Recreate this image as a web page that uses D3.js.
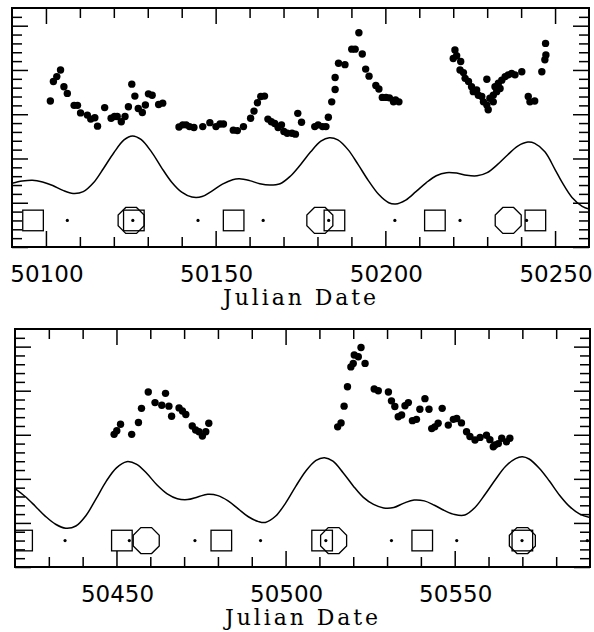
<!DOCTYPE html>
<html>
<head>
<meta charset="utf-8">
<script src="https://cdn.jsdelivr.net/npm/d3@7"></script>
<style>
  body { margin: 0; background: white; }
  svg { display: block; }
</style>
</head>
<body>
<svg id="chart"></svg>
<script>
var width = 594,
    height = 632;

// top panel: photometry points [JD, value]
var topPoints = [
    [50101.3, 3.30], [50102.2, 3.74], [50103.2, 3.85], [50104.3, 4.00], [50105.3, 3.62],
    [50106.3, 3.47], [50108.3, 3.20], [50109.3, 3.20], [50110.2, 3.03], [50112.2, 2.98],
    [50113.2, 2.89], [50114.4, 2.92], [50115.2, 2.73], [50117.3, 3.15], [50119.2, 2.91],
    [50120.2, 2.95], [50121.0, 2.95], [50122.2, 2.83], [50123.3, 2.95], [50124.3, 3.17],
    [50125.3, 3.68], [50126.2, 3.41], [50127.2, 3.13], [50128.4, 3.04], [50129.3, 3.21],
    [50130.2, 3.46], [50131.3, 3.43], [50133.2, 3.22], [50134.4, 3.25],
    [50139.2, 2.71], [50140.3, 2.76], [50141.3, 2.76], [50142.3, 2.72], [50143.6, 2.70],
    [50146.2, 2.72], [50148.3, 2.81], [50150.1, 2.72], [50151.3, 2.78], [50152.3, 2.78],
    [50155.2, 2.64], [50156.4, 2.63], [50158.2, 2.72], [50160.3, 2.91], [50161.3, 3.07],
    [50162.3, 3.26], [50163.3, 3.40], [50164.4, 3.41], [50165.4, 2.89], [50166.4, 2.83],
    [50167.4, 2.79], [50168.4, 2.70], [50169.4, 2.76], [50170.1, 2.61], [50171.1, 2.57],
    [50172.5, 2.57], [50173.5, 2.55], [50174.2, 3.02], [50175.3, 2.82],
    [50179.2, 2.72], [50180.2, 2.76], [50181.5, 2.72], [50182.5, 2.72], [50183.2, 2.93],
    [50184.2, 3.28], [50185.2, 3.56], [50185.2, 3.83], [50186.2, 4.15], [50188.1, 4.12],
    [50190.1, 4.47], [50191.1, 4.47], [50192.2, 4.84], [50193.2, 4.36], [50194.2, 4.02],
    [50195.2, 3.86], [50197.2, 3.65], [50198.1, 3.57], [50199.1, 3.38], [50200.2, 3.38],
    [50201.2, 3.37], [50202.4, 3.28], [50203.0, 3.32], [50204.0, 3.28],
    [50220.5, 4.45], [50220.0, 4.26], [50221.0, 4.32], [50222.2, 4.19], [50222.0, 4.00],
    [50223.0, 3.94], [50223.5, 3.81], [50224.5, 3.74], [50225.4, 3.62], [50225.9, 3.51],
    [50226.9, 3.55], [50227.4, 3.43], [50228.4, 3.40], [50228.9, 3.28], [50229.9, 3.21],
    [50230.3, 3.10], [50229.9, 3.79], [50230.8, 3.36], [50231.8, 3.43], [50232.3, 3.62],
    [50233.3, 3.70], [50234.3, 3.77], [50235.3, 3.85], [50236.2, 3.89], [50237.2, 3.92],
    [50238.2, 3.89], [50240.2, 3.96], [50231.8, 3.28], [50232.8, 3.51], [50233.8, 3.58],
    [50242.1, 3.40], [50242.6, 3.28], [50244.0, 3.30], [50246.1, 3.96], [50247.0, 4.23],
    [50247.3, 4.34], [50247.2, 4.60]
];

// top panel: smooth model curve [JD, value]
var topCurve = [
    [50090, 1.44], [50093, 1.49], [50096, 1.51], [50099, 1.47], [50102, 1.39],
    [50105, 1.28], [50108, 1.21], [50111, 1.25], [50114, 1.45], [50117, 1.78],
    [50120, 2.13], [50123, 2.42], [50125.5, 2.51], [50128, 2.43], [50131, 2.16],
    [50134, 1.80], [50137, 1.47], [50140, 1.24], [50143, 1.13], [50146, 1.14],
    [50149, 1.27], [50152, 1.42], [50155, 1.52], [50157, 1.54], [50160, 1.50],
    [50163, 1.43], [50166, 1.40], [50169, 1.43], [50172, 1.60], [50175, 1.86],
    [50178, 2.15], [50181, 2.39], [50183.5, 2.47], [50186, 2.42], [50189, 2.20],
    [50192, 1.86], [50195, 1.50], [50198, 1.19], [50201, 1.00], [50203, 0.97],
    [50206, 1.06], [50209, 1.25], [50212, 1.45], [50215, 1.61], [50218, 1.68],
    [50221, 1.67], [50224, 1.62], [50227, 1.61], [50230, 1.68], [50233, 1.86],
    [50236, 2.08], [50239, 2.28], [50242, 2.37], [50244, 2.34], [50247, 2.15],
    [50250, 1.75], [50252, 1.47], [50255, 1.12], [50258, 0.92], [50260, 0.86]
];

var topSquares = [50096.2, 50125.9, 50155.3, 50185.0, 50214.6, 50244.2];
var topOctagons = [50125.1, 50180.7, 50236.2];
var topDots = [50106.3, 50125.6, 50144.8, 50164.0, 50183.3, 50202.8, 50222.0, 50241.6];
var topLabels = [50100, 50150, 50200, 50250];

// bottom panel
var bottomPoints = [
    [50449.3, 3.01], [50450.1, 3.09], [50451.2, 3.24], [50454.5, 3.01], [50456.5, 3.28],
    [50457.4, 3.60], [50459.4, 3.97], [50461.4, 3.73], [50463.4, 3.67], [50464.5, 3.94],
    [50465.5, 3.65], [50466.3, 3.42], [50468.5, 3.61], [50469.5, 3.54], [50470.5, 3.46],
    [50472.4, 3.20], [50473.4, 3.11], [50474.4, 3.07], [50475.4, 2.97], [50476.4, 3.07],
    [50477.3, 3.26],
    [50515.4, 3.18], [50516.4, 3.27], [50517.3, 3.65], [50518.3, 4.09], [50519.3, 4.54],
    [50520.0, 4.62], [50520.3, 4.81], [50521.5, 4.77], [50522.3, 4.98], [50523.5, 4.62],
    [50526.2, 4.04], [50527.4, 4.00], [50530.4, 3.97], [50531.3, 3.77], [50532.3, 3.64],
    [50533.3, 3.41], [50534.3, 3.45], [50535.3, 3.66], [50536.3, 3.73], [50537.5, 3.32],
    [50538.7, 3.35], [50539.7, 3.58], [50541.2, 3.82], [50542.4, 3.58], [50543.2, 3.14],
    [50544.1, 3.18], [50545.1, 3.26], [50546.3, 3.60], [50548.1, 3.22], [50549.6, 3.35],
    [50550.6, 3.37], [50552.0, 3.27], [50553.5, 3.07], [50554.5, 2.96], [50556.0, 2.88],
    [50557.5, 2.94], [50559.4, 2.99], [50560.4, 2.89], [50561.4, 2.73], [50561.9, 2.77],
    [50562.9, 2.80], [50563.9, 2.92], [50565.3, 2.84], [50566.3, 2.92]
];

var bottomCurve = [
    [50420, 1.78], [50423, 1.60], [50426, 1.38], [50429, 1.15], [50432, 0.97],
    [50435, 0.88], [50438, 0.93], [50441, 1.17], [50444, 1.55], [50447, 1.95],
    [50450, 2.25], [50453, 2.39], [50456, 2.33], [50459, 2.12], [50462, 1.86],
    [50465, 1.66], [50468, 1.55], [50471, 1.53], [50474, 1.59], [50477, 1.65],
    [50480, 1.62], [50483, 1.50], [50486, 1.32], [50489, 1.14], [50492, 1.03],
    [50494, 1.01], [50497, 1.15], [50500, 1.45], [50503, 1.83], [50506, 2.18],
    [50509, 2.42], [50511.5, 2.48], [50514, 2.40], [50517, 2.14], [50520, 1.84],
    [50523, 1.58], [50526, 1.42], [50529, 1.34], [50532, 1.35], [50535, 1.45],
    [50538, 1.52], [50541, 1.50], [50544, 1.40], [50547, 1.28], [50550, 1.19],
    [50553, 1.18], [50556, 1.35], [50559, 1.65], [50562, 1.98], [50565, 2.28],
    [50568, 2.46], [50570, 2.50], [50572, 2.45], [50575, 2.24], [50578, 1.95],
    [50581, 1.63], [50584, 1.37], [50587, 1.20], [50590, 1.12]
];

var bottomSquares = [50422.1, 50451.6, 50481.0, 50510.8, 50540.4, 50570.0];
var bottomOctagons = [50458.8, 50514.2, 50570.0];
var bottomDots = [50434.8, 50453.8, 50473.2, 50492.6, 50511.9, 50531.3, 50550.6, 50569.9, 50589.2];
var bottomLabels = [50450, 50500, 50550];

var markerLevel = 0.6;
var yDomain = [0, 5.4];

var svg = d3.select('svg#chart')
    .attr('width', width)
    .attr('height', height);

drawPanel({
    id: 'top', left: 12, right: 589, top: 8, bottom: 247,
    domain: [50090, 50260], labels: topLabels,
    points: topPoints, curve: topCurve,
    squares: topSquares, octagons: topOctagons, dots: topDots
});

drawPanel({
    id: 'bottom', left: 15, right: 590, top: 329, bottom: 567,
    domain: [50420, 50590], labels: bottomLabels,
    points: bottomPoints, curve: bottomCurve,
    squares: bottomSquares, octagons: bottomOctagons, dots: bottomDots
});

function drawPanel(p) {
    var x = d3.scaleLinear().domain(p.domain).range([p.left, p.right]);
    var y = d3.scaleLinear().domain(yDomain).range([p.bottom, p.top]);
    var g = svg.append('g');

    g.append('clipPath').attr('id', 'clip-' + p.id)
        .append('rect')
        .attr('x', p.left).attr('y', p.top)
        .attr('width', p.right - p.left).attr('height', p.bottom - p.top);

    var plot = g.append('g').attr('clip-path', 'url(#clip-' + p.id + ')');

    // model curve
    plot.append('path')
        .datum(p.curve)
        .attr('fill', 'none')
        .attr('stroke', 'black')
        .attr('stroke-width', 1.5)
        .attr('d', d3.line()
            .x(function (d) { return x(d[0]); })
            .y(function (d) { return y(d[1]); })
            .curve(d3.curveCatmullRom));

    // phase markers
    plot.selectAll('rect.sq').data(p.squares).join('rect')
        .attr('class', 'sq')
        .attr('x', function (d) { return x(d) - 10.3; })
        .attr('y', y(markerLevel) - 10.3)
        .attr('width', 20.6).attr('height', 20.6)
        .attr('fill', 'none').attr('stroke', 'black').attr('stroke-width', 1.3);

    var octR = 13 / Math.cos(Math.PI / 8);
    var octagon = d3.range(8).map(function (i) {
        var a = Math.PI / 8 + i * Math.PI / 4;
        return [octR * Math.cos(a), octR * Math.sin(a)];
    });
    plot.selectAll('path.oct').data(p.octagons).join('path')
        .attr('class', 'oct')
        .attr('transform', function (d) { return 'translate(' + x(d) + ',' + y(markerLevel) + ')'; })
        .attr('d', d3.line()(octagon) + 'Z')
        .attr('fill', 'none').attr('stroke', 'black').attr('stroke-width', 1.3);

    plot.selectAll('circle.dot').data(p.dots).join('circle')
        .attr('class', 'dot')
        .attr('cx', function (d) { return x(d); })
        .attr('cy', y(markerLevel))
        .attr('r', 1.6)
        .attr('fill', 'black');

    // data points
    plot.selectAll('circle.pt').data(p.points).join('circle')
        .attr('class', 'pt')
        .attr('cx', function (d) { return x(d[0]); })
        .attr('cy', function (d) { return y(d[1]); })
        .attr('r', 3.7)
        .attr('fill', 'black');

    // ticks on all four sides
    var xMajor = d3.range(p.domain[0], p.domain[1] + 1, 10).filter(function (d) {
        return d > p.domain[0] && d < p.domain[1] && d % 50 === 0;
    });
    var xMinor = d3.range(p.domain[0], p.domain[1] + 1, 10).filter(function (d) {
        return d > p.domain[0] && d < p.domain[1] && d % 50 !== 0;
    });
    var yMajor = d3.range(0, 6);
    var yMinor = d3.range(1, 27).filter(function (i) { return i % 5 !== 0; })
        .map(function (i) { return i * 0.2; });

    addTicks(g, d3.axisBottom(x), xMajor, 16, 'translate(0,' + p.bottom + ')');
    addTicks(g, d3.axisBottom(x), xMinor, 10, 'translate(0,' + p.bottom + ')');
    addTicks(g, d3.axisTop(x), xMajor, 16, 'translate(0,' + p.top + ')');
    addTicks(g, d3.axisTop(x), xMinor, 10, 'translate(0,' + p.top + ')');
    addTicks(g, d3.axisLeft(y), yMajor, 16, 'translate(' + p.left + ',0)');
    addTicks(g, d3.axisLeft(y), yMinor, 10, 'translate(' + p.left + ',0)');
    addTicks(g, d3.axisRight(y), yMajor, 16, 'translate(' + p.right + ',0)');
    addTicks(g, d3.axisRight(y), yMinor, 10, 'translate(' + p.right + ',0)');

    g.append('rect')
        .attr('x', p.left).attr('y', p.top)
        .attr('width', p.right - p.left).attr('height', p.bottom - p.top)
        .attr('fill', 'none').attr('stroke', 'black').attr('stroke-width', 2);

    g.selectAll('text.lab').data(p.labels).join('text')
        .attr('class', 'lab')
        .attr('x', function (d) { return x(d) + 1; })
        .attr('y', p.bottom + 35)
        .attr('text-anchor', 'middle')
        .attr('font-family', 'DejaVu Sans, sans-serif')
        .attr('font-size', 23)
        .text(function (d) { return d; });

    g.append('text')
        .attr('x', (p.left + p.right) / 2 - 1)
        .attr('y', p.bottom + 58)
        .attr('text-anchor', 'middle')
        .attr('font-family', 'DejaVu Serif, serif')
        .attr('font-size', 22)
        .attr('textLength', 153)
        .attr('lengthAdjust', 'spacing')
        .text('Julian Date');
}

function addTicks(g, axis, values, len, transform) {
    g.append('g')
        .attr('transform', transform)
        .call(axis.tickValues(values).tickSize(-len).tickSizeOuter(0).tickFormat(''))
        .call(function (a) { a.select('.domain').remove(); })
        .selectAll('line')
        .attr('stroke', 'black')
        .attr('stroke-width', 1.5);
}
</script>
</body>
</html>
